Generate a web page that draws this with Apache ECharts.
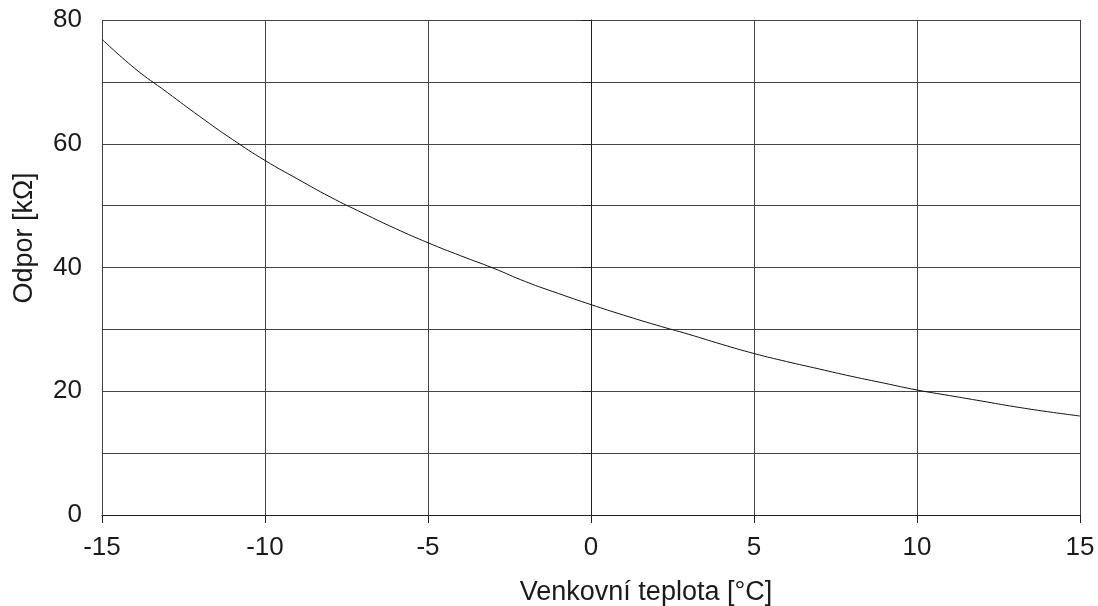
<!DOCTYPE html>
<html><head><meta charset="utf-8">
<script src="https://cdn.jsdelivr.net/npm/echarts@6/dist/echarts.min.js"></script>
<style>html,body{margin:0;padding:0;background:#fff}#c{width:1098px;height:606px}</style>
</head><body><div id="c"></div>
<script>
const temperatures = [-15,-14,-13,-12,-11,-10,-9,-8,-7,-6,-5,-4,-3,-2,-1,0,1,2,3,4,5,6,7,8,9,10,11,12,13,14,15];
const resistance = [76.9,72.2,68.3,64.4,60.7,57.3,54.3,51.4,48.8,46.3,44.0,41.9,39.9,37.7,35.8,34.0,32.3,30.7,29.2,27.6,26.1,24.8,23.6,22.4,21.3,20.2,19.3,18.4,17.5,16.7,16.0];
const xName = 'Venkovní teplota [°C]';
const yName = 'Odpor [kΩ]';
const font = '"Liberation Sans", Arial, sans-serif';
const chart = echarts.init(document.getElementById('c'), null, {renderer:'canvas'});
chart.setOption({
  animation:false,
  grid:{left:102,right:18,top:20,bottom:91,containLabel:false,outerBoundsMode:'none'},
  xAxis:{type:'value',min:-15,max:15,interval:5,name:xName,nameLocation:'middle',nameGap:64,
    nameTextStyle:{fontFamily:font,fontSize:27,color:'#1a1a1a',padding:[0,0,0,110]},
    axisLine:{show:true,onZero:false,lineStyle:{color:'#222',width:1}},
    axisTick:{show:true,length:8,lineStyle:{color:'#222'}},
    axisLabel:{fontFamily:font,fontSize:26,color:'#1a1a1a',margin:20},
    splitLine:{show:true,lineStyle:{color:'#444',width:1}}},
  yAxis:{type:'value',min:0,max:80,interval:10,name:yName,nameLocation:'middle',nameGap:64,
    nameTextStyle:{fontFamily:font,fontSize:27,color:'#1a1a1a',padding:[0,0,0,59]},
    axisLine:{show:true,lineStyle:{color:'#222',width:1}},
    axisTick:{show:true,length:9,lineStyle:{color:'#222'}},
    axisLabel:{fontFamily:font,fontSize:26,color:'#1a1a1a',margin:20,formatter:function(v){return v%20===0?String(v):'';}},
    splitLine:{show:true,lineStyle:{color:'#444',width:1}}},
  series:[{type:'line',data:temperatures.map((t,i)=>[t,resistance[i]]),smooth:true,showSymbol:false,
    lineStyle:{color:'#111',width:1}}]
});
</script></body></html>
